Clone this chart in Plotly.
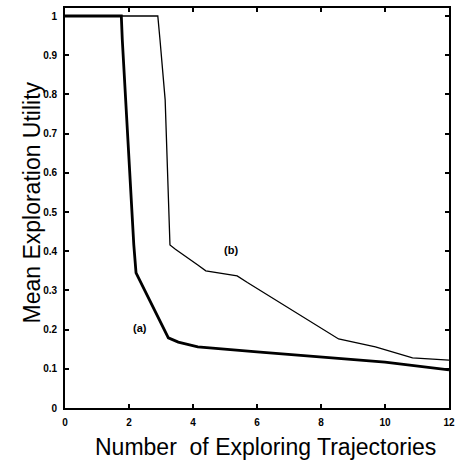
import plotly.graph_objects as go

# Curve (a): thick line
a_x = [0, 1.76, 1.79, 1.95, 2.15, 2.22, 3.23, 3.54, 4.15, 6.0, 8.25, 10.0, 12.0]
a_y = [1.0, 1.0, 0.94, 0.70, 0.416, 0.345, 0.179, 0.168, 0.156, 0.143, 0.128, 0.117, 0.097]

# Curve (b): thin line
b_x = [0, 2.9, 2.97, 3.13, 3.28, 3.45, 4.15, 4.4, 5.38, 5.7, 8.55, 9.7, 10.86, 12.0]
b_y = [1.0, 1.0, 0.938, 0.786, 0.416, 0.405, 0.365, 0.35, 0.337, 0.32, 0.176, 0.156, 0.128, 0.122]

x_ticks = [0, 2, 4, 6, 8, 10, 12]
y_ticks = [0, 0.1, 0.2, 0.3, 0.4, 0.5, 0.6, 0.7, 0.8, 0.9, 1.0]
y_tick_text = ["0", "0.1", "0.2", "0.3", "0.4", "0.5", "0.6", "0.7", "0.8", "0.9", "1"]

FONT = "Liberation Sans, Arial, Helvetica"

fig = go.Figure()
fig.add_trace(go.Scatter(x=b_x, y=b_y, mode="lines",
                         line=dict(color="black", width=1.3), showlegend=False))
fig.add_trace(go.Scatter(x=a_x, y=a_y, mode="lines",
                         line=dict(color="black", width=2.8), showlegend=False))

fig.add_annotation(x=2.34, y=0.204, text="(a)", showarrow=False,
                   font=dict(family=FONT, size=11, color="black", weight="bold"))
fig.add_annotation(x=5.2, y=0.403, text="(b)", showarrow=False,
                   font=dict(family=FONT, size=11, color="black", weight="bold"))

# axis titles
fig.add_annotation(xref="paper", yref="paper", x=0.523, y=-0.0975,
                   xanchor="center", yanchor="middle", showarrow=False,
                   text="Number  of Exploring Trajectories",
                   font=dict(family=FONT, size=23, color="black"))
fig.add_annotation(xref="paper", yref="paper", x=-0.0872, y=0.5125,
                   xanchor="center", yanchor="middle", showarrow=False,
                   textangle=-90, text="Mean Exploration Utility",
                   font=dict(family=FONT, size=23, color="black"))

fig.update_layout(
    width=461, height=461,
    margin=dict(l=65, r=6, t=8, b=53),
    paper_bgcolor="white", plot_bgcolor="white",
    font=dict(family=FONT, color="black"),
)
fig.update_xaxes(
    range=[0, 12], tickvals=x_ticks, ticktext=[str(v) for v in x_ticks],
    ticks="inside", ticklen=4, tickwidth=1.5, tickcolor="black",
    showline=True, linecolor="black", linewidth=1.8, mirror="allticks",
    showgrid=False, zeroline=False, ticklabelstandoff=4,
    tickfont=dict(size=10, family=FONT, color="black", weight="bold"),
)
fig.update_yaxes(
    range=[0, 1.0204], tickvals=y_ticks, ticktext=y_tick_text,
    ticks="inside", ticklen=4, tickwidth=1.5, tickcolor="black",
    showline=True, linecolor="black", linewidth=1.8, mirror="allticks",
    showgrid=False, zeroline=False, ticklabelstandoff=4,
    tickfont=dict(size=10, family=FONT, color="black", weight="bold"),
)

fig.write_html("out.html", config={"displayModeBar": False},
               post_script="document.body.style.margin='0';")
